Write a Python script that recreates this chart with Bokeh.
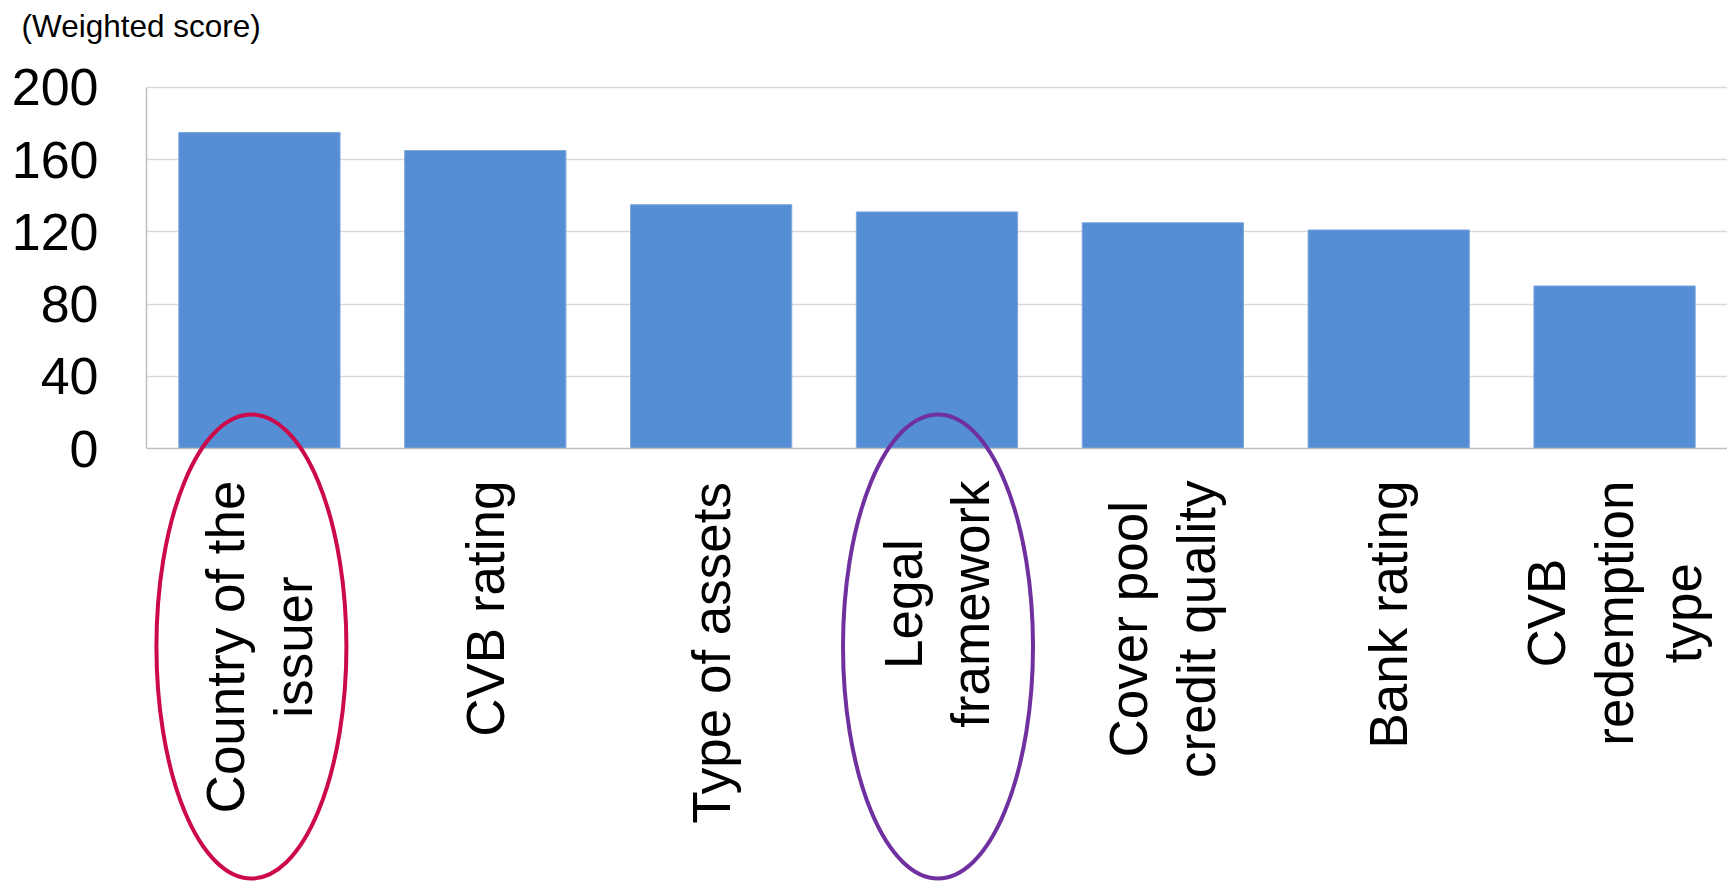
import math
from bokeh.plotting import figure
from bokeh.models import Range1d, FixedTicker, ColumnDataSource, Title
from bokeh.core.properties import value
from bokeh.embed import file_html
from bokeh.resources import INLINE

# ---- data ----
categories = ["Country of the\nissuer", "CVB rating", "Type of assets", "Legal\nframework",
              "Cover pool\ncredit quality", "Bank rating", "CVB\nredemption\ntype"]
scores = [175, 165, 135, 131, 125, 121, 90]
y_ticks = [0, 40, 80, 120, 160, 200]
y_label = "(Weighted score)"
highlighted = ["Country of the\nissuer", "Legal\nframework"]
highlight_colors = ["#CC0A4B", "#7030A0"]

# ---- layout constants (pixels) ----
W, H = 1727, 881
LEFT = 146
TOP = 85
ZERO = 448
Y_MAX = 201
ppu = (ZERO - TOP) / Y_MAX
y_min = -(H - ZERO) / ppu
n = len(categories)
xppu = (W - LEFT) / n

FONT = "Liberation Sans"
CAT_SIZE = 53

ARIAL = {" ": 278, "C": 722, "V": 667, "B": 667, "T": 611, "L": 556, "a": 556, "b": 556,
         "c": 500, "d": 556, "e": 556, "f": 278, "g": 556, "h": 556, "i": 222, "k": 500,
         "l": 222, "m": 833, "n": 556, "o": 556, "p": 556, "q": 556, "r": 333, "s": 500,
         "t": 278, "u": 556, "v": 500, "w": 722, "y": 500}

def text_width(s, size):
    return sum(ARIAL.get(ch, 556) for ch in s) / 1000.0 * size

xs = [i + 0.5 for i in range(n)]
offsets = [32 + max(text_width(l, CAT_SIZE) for l in c.split("\n")) / 2 for c in categories]

p = figure(width=W, height=H, output_backend="svg", toolbar_location=None,
           x_range=Range1d(0, n), y_range=Range1d(y_min, Y_MAX),
           x_axis_location=None, min_border_left=LEFT, min_border_right=0,
           min_border_top=TOP, min_border_bottom=0)
p.outline_line_color = None
p.background_fill_color = "white"
p.border_fill_color = "white"

# spacer next to the frame, then the unit title above it
p.add_layout(Title(text=" ", text_font_size="1px", standoff=34), "above")
p.add_layout(Title(text=y_label, text_font=FONT, text_font_size="31.5px",
                   text_font_style="normal", text_color="black", align="left",
                   offset=-125, standoff=9), "above")

# y axis
ax = p.yaxis[0]
ax.ticker = FixedTicker(ticks=y_ticks)
ax.bounds = (0, 200)
ax.major_tick_out = 0
ax.major_tick_in = 0
ax.minor_tick_out = 0
ax.minor_tick_in = 0
ax.axis_line_color = "#bfbfbf"
ax.axis_line_width = 1.5
ax.major_label_standoff = 48
ax.major_label_text_font = FONT
ax.major_label_text_font_size = "52px"
ax.major_label_text_color = "black"

p.xgrid.visible = False
p.ygrid.ticker = FixedTicker(ticks=y_ticks[1:])
p.ygrid.grid_line_color = "#d9d9d9"
p.ygrid.grid_line_width = 1.5

src = ColumnDataSource(dict(x=xs, top=scores, label=categories, off=offsets, zero=[0] * n))

p.vbar(x="x", top="top", bottom=0, width=0.714, source=src,
       fill_color="#558ED5", line_color="#7FA8DE", line_width=1)

p.segment(x0=[0], y0=[0], x1=[n], y1=[0], line_color="#bfbfbf", line_width=1.5)

p.text(x="x", y="zero", text="label", source=src, angle=math.pi / 2,
       text_align="center", text_baseline="middle", y_offset="off",
       text_font=value(FONT), text_font_size=f"{CAT_SIZE}px", text_color="black",
       text_line_height=1.15)

# highlight ellipses around selected category labels
ell_dx_px = [-8, 1]
hx = [categories.index(c) + 0.5 + d / xppu for c, d in zip(highlighted, ell_dx_px)]
hy = [-198 / ppu] * len(highlighted)
p.ellipse(x=hx, y=hy, width=190 / xppu, height=464 / ppu,
          fill_color=None, line_color=highlight_colors, line_width=4)

open("out.html", "w").write(file_html(p, INLINE))
